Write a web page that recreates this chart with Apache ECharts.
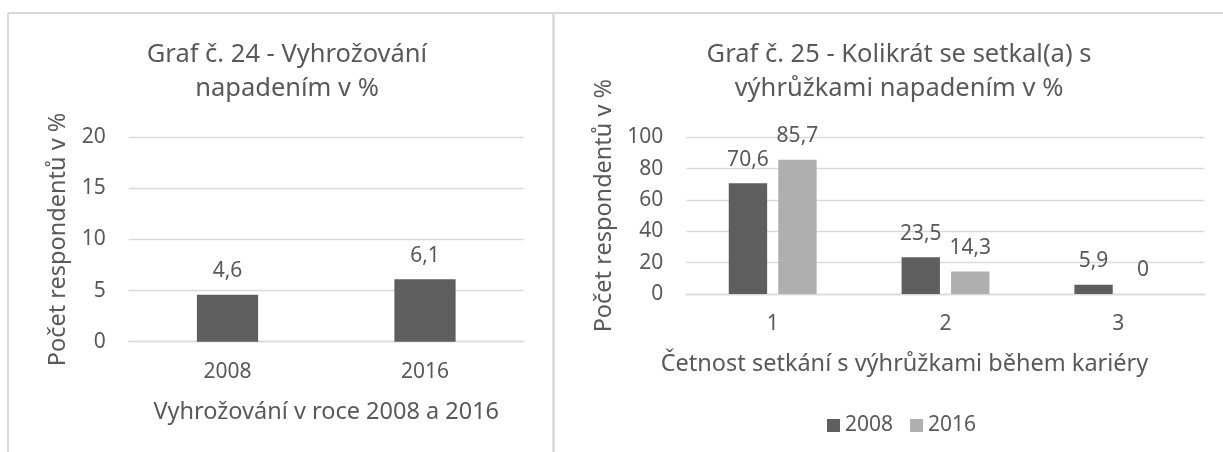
<!DOCTYPE html>
<html>
<head>
<meta charset="utf-8">
<script src="https://cdn.jsdelivr.net/npm/echarts@6/dist/echarts.min.js"></script>
<style>
html,body{margin:0;padding:0;background:#fff;}
#chart{width:1223px;height:452px;}
</style>
</head>
<body>
<div id="chart"></div>
<script>
// ---- data ----
const leftCategories = ['2008', '2016'];
const leftValues = [4.6, 6.1];
const leftYTicks = { min: 0, max: 20, interval: 5 };
const leftTitle = 'Graf č. 24 - Vyhrožování\nnapadením v %';
const leftXName = 'Vyhrožování v roce 2008 a 2016';

const rightCategories = ['1', '2', '3'];
const rightSeriesNames = ['2008', '2016'];
const right2008 = [70.6, 23.5, 5.9];
const right2016 = [85.7, 14.3, 0];
const rightYTicks = { min: 0, max: 100, interval: 20 };
const rightTitle = 'Graf č. 25 - Kolikrát se setkal(a) s\nvýhrůžkami napadením v %';
const rightXName = 'Četnost setkání s výhrůžkami během kariéry';

const yName = 'Počet respondentů v %';

// ---- styles ----
const FONT = 'Noto Sans';
const TXT = '#595959';
const GRID = '#d9d9d9';
const DARK = '#5e5e5e';
const LIGHT = '#afafaf';

const fmt = p => String(p.value).replace('.', ',');

const chart = echarts.init(document.getElementById('chart'), null, { renderer: 'canvas' });

function xAxisCfg(gridIndex, cats, name, gap, pad) {
  return {
    type: 'category', gridIndex, data: cats,
    name, nameLocation: 'middle', nameGap: gap,
    nameTextStyle: { color: TXT, fontSize: 23.5, fontFamily: FONT, padding: pad },
    axisLine: { show: true, lineStyle: { color: GRID, width: 1.3 } },
    axisTick: { show: false },
    axisLabel: { color: TXT, fontSize: 21, fontFamily: FONT, margin: 20 }
  };
}
function yAxisCfg(gridIndex, t, gap, pad) {
  return {
    type: 'value', gridIndex, min: t.min, max: t.max, interval: t.interval,
    name: yName, nameLocation: 'middle', nameGap: gap,
    nameTextStyle: { color: TXT, fontSize: 23.5, fontFamily: FONT, padding: pad },
    axisLine: { show: false }, axisTick: { show: false },
    axisLabel: { color: TXT, fontSize: 21, fontFamily: FONT, margin: 23 },
    splitLine: { lineStyle: { color: GRID, width: 1.3 } }
  };
}
const labelCfg = { show: true, position: 'top', distance: 13, color: TXT, fontSize: 21, fontFamily: FONT, formatter: fmt };

chart.setOption({
  animation: false,
  backgroundColor: '#fff',
  title: [
    { text: leftTitle, left: 282, top: 33, textAlign: 'center',
      textStyle: { color: TXT, fontSize: 25.5, fontWeight: 'normal', fontFamily: FONT, lineHeight: 34, align: 'center' } },
    { text: rightTitle, left: 894, top: 33, textAlign: 'center',
      textStyle: { color: TXT, fontSize: 25.5, fontWeight: 'normal', fontFamily: FONT, lineHeight: 34, align: 'center' } }
  ],
  legend: {
    data: rightSeriesNames, left: 822, top: 410,
    icon: 'rect', itemWidth: 13, itemHeight: 13, itemGap: 17,
    textStyle: { color: TXT, fontSize: 21, fontFamily: FONT }
  },
  grid: [
    { left: 128.75, right: 699.25, top: 137.3, bottom: 110.3 },
    { left: 686.3, right: 18.3, top: 137.3, bottom: 158 }
  ],
  xAxis: [
    xAxisCfg(0, leftCategories, leftXName, 59, [0, 0, 0, 0]),
    xAxisCfg(1, rightCategories, rightXName, 58.5, [0, 82, 0, 0])
  ],
  yAxis: [
    yAxisCfg(0, leftYTicks, 58, [0, 0, 0, 0]),
    yAxisCfg(1, rightYTicks, 69.5, [0, 0, 0, 20])
  ],
  graphic: [
    { type: 'line', shape: { x1: 8, y1: 13, x2: 1223, y2: 13 }, style: { stroke: GRID, lineWidth: 2 }, silent: true },
    { type: 'line', shape: { x1: 8, y1: 13, x2: 8, y2: 452 }, style: { stroke: GRID, lineWidth: 2 }, silent: true },
    { type: 'line', shape: { x1: 553.5, y1: 13, x2: 553.5, y2: 452 }, style: { stroke: GRID, lineWidth: 2.5 }, silent: true }
  ],
  series: [
    { name: 'Vyhrožování', type: 'bar', xAxisIndex: 0, yAxisIndex: 0, data: leftValues,
      barWidth: '31%', itemStyle: { color: DARK }, label: labelCfg },
    { name: rightSeriesNames[0], type: 'bar', xAxisIndex: 1, yAxisIndex: 1, data: right2008,
      barWidth: '22.2%', barGap: '29%', itemStyle: { color: DARK }, label: labelCfg },
    { name: rightSeriesNames[1], type: 'bar', xAxisIndex: 1, yAxisIndex: 1, data: right2016,
      barWidth: '22.2%', barGap: '29%', itemStyle: { color: LIGHT }, label: labelCfg }
  ]
});
</script>
</body>
</html>
